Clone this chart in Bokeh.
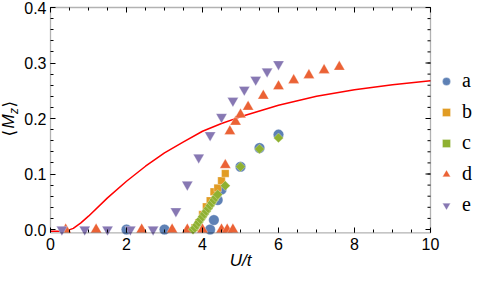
from bokeh.plotting import figure
from bokeh.models import FixedTicker, Legend, LegendItem, Label, Range1d, PrintfTickFormatter, BoxAnnotation
from bokeh.embed import file_html
from bokeh.resources import INLINE
import numpy as np

# ---- data ----
a_u = [2.0, 3.0, 4.2, 4.3, 4.4, 4.5, 5.0, 5.5, 6.0]
a_m = [0.0, 0.0, 0.0, 0.017, 0.053, 0.072, 0.113, 0.147, 0.171]
b_u = [3.8, 3.9, 4.0, 4.1, 4.2, 4.3, 4.4, 4.5, 4.6]
b_m = [0.003, 0.012, 0.027, 0.041, 0.052, 0.068, 0.075, 0.088, 0.101]
c_u = [3.75, 3.8, 3.85, 3.9, 3.95, 4.0, 4.05, 4.1, 4.15, 4.2, 4.25, 4.3, 4.35, 4.4, 4.6, 5.0, 5.5, 6.0]
c_m = [0.0, 0.003, 0.008, 0.013, 0.018, 0.023, 0.028, 0.033, 0.038, 0.043, 0.048, 0.053, 0.058, 0.063, 0.079, 0.113, 0.145, 0.165]
d_u = [0.4, 1.2, 2.4, 3.2, 3.6, 4.0, 4.5, 4.6, 4.65, 4.72, 4.8, 4.87, 5.0, 5.2, 5.6, 6.0, 6.4, 6.8, 7.2, 7.6]
d_m = [0, 0, 0, 0, 0, 0, 0, 0.116, 0, 0.177, 0, 0.194, 0.207, 0.221, 0.241, 0.258, 0.269, 0.278, 0.287, 0.293]
e_u = [0.3, 0.9, 1.5, 2.1, 2.7, 3.3, 3.6, 3.9, 4.2, 4.5, 4.8, 5.1, 5.4, 5.7, 6.0]
e_m = [0, 0, 0, 0, 0, 0.033, 0.081, 0.130, 0.170, 0.203, 0.232, 0.252, 0.270, 0.285, 0.298]
line_u = [0, 0.4, 0.6, 0.8, 1.0, 1.5, 2.0, 2.5, 3.0, 3.5, 4.0, 4.5, 5.0, 6.0, 7.0, 8.0, 9.0, 10.0]
line_m = [-0.003, -0.003, 0.002, 0.012, 0.024, 0.057, 0.087, 0.114, 0.138, 0.158, 0.177, 0.191, 0.203, 0.224, 0.240, 0.252, 0.261, 0.268]

x_ticks = [0, 2, 4, 6, 8, 10]
y_ticks = [0.0, 0.1, 0.2, 0.3, 0.4]
labels = ["a", "b", "c", "d", "e"]

C_A, C_B, C_C, C_D, C_E = "#5E81B5", "#E19C24", "#8FB131", "#EB6235", "#8778B3"

# plotted box (axis limits)
X0, X1, Y0, Y1 = 0.0, 10.0, -0.006, 0.4
W, H = 474, 272
SX = 38.0        # px per unit U
SY = 555.0       # px per unit M
LEFT_PX = 50     # box left, px from figure left
TOP_PX = 7       # box top, px from figure top
xr = Range1d(X0 - LEFT_PX / SX, X0 + (W - LEFT_PX) / SX)
yr = Range1d(Y1 - (H - TOP_PX) / SY, Y1 + TOP_PX / SY)

p = figure(width=W, height=H, x_range=xr, y_range=yr,
           output_backend="svg", toolbar_location=None,
           min_border_left=0, min_border_right=0, min_border_top=0, min_border_bottom=0)
p.xgrid.grid_line_color = None
p.ygrid.grid_line_color = None
p.outline_line_color = None
p.background_fill_color = "white"
p.border_fill_color = "white"

x_minor = list(np.round(np.arange(X0, X1 + 0.01, 0.5), 2))
y_minor = list(np.round(np.arange(0, Y1 + 0.001, 0.02), 3))
p.xaxis.ticker = FixedTicker(ticks=x_ticks, minor_ticks=x_minor)
p.yaxis.ticker = FixedTicker(ticks=y_ticks, minor_ticks=y_minor)
p.yaxis.formatter = PrintfTickFormatter(format="%.1f")
p.xaxis.fixed_location = Y0
p.yaxis.fixed_location = X0
p.xaxis.bounds = (X0, X1)
p.yaxis.bounds = (0, Y1)
for ax in (p.xaxis[0], p.yaxis[0]):
    ax.axis_line_color = None
    ax.major_tick_in = 5
    ax.major_tick_out = 0
    ax.minor_tick_in = 3
    ax.minor_tick_out = 0
    ax.major_tick_line_color = "black"
    ax.minor_tick_line_color = "black"
    ax.major_label_text_font = "Liberation Sans"
    ax.major_label_text_font_size = "16px"
    ax.major_label_text_color = "black"
p.xaxis.major_label_standoff = 5
p.yaxis.major_label_standoff = 4
p.xaxis.axis_label = "U/t"
p.xaxis.axis_label_text_font = "Liberation Sans"
p.xaxis.axis_label_text_font_style = "italic"
p.xaxis.axis_label_text_font_size = "17px"
p.xaxis.axis_label_text_color = "black"
p.xaxis.axis_label_standoff = -2

# frame box
p.add_layout(BoxAnnotation(left=X0, right=X1, bottom=Y0, top=Y1, fill_alpha=0,
                           line_color="black", line_width=1.3))

# ticks on the top and right frame edges
dx_maj, dx_min = 5 / SX, 3 / SX
dy_maj, dy_min = 5 / SY, 3 / SY
p.segment(x0=x_ticks, y0=[Y1] * len(x_ticks), x1=x_ticks, y1=[Y1 - dy_maj] * len(x_ticks), line_color="black", line_width=1)
p.segment(x0=x_minor, y0=[Y1] * len(x_minor), x1=x_minor, y1=[Y1 - dy_min] * len(x_minor), line_color="black", line_width=1)
p.segment(x0=[X1] * len(y_ticks), y0=y_ticks, x1=[X1 - dx_maj] * len(y_ticks), y1=y_ticks, line_color="black", line_width=1)
p.segment(x0=[X1] * len(y_minor), y0=y_minor, x1=[X1 - dx_min] * len(y_minor), y1=y_minor, line_color="black", line_width=1)

p.line(line_u, line_m, line_color="#FF0000", line_width=1.5)

kw = dict(line_color="white", line_alpha=0.5, line_width=0.6)
ra = p.scatter(a_u, a_m, marker="circle", size=10.5, fill_color=C_A, **kw)
rb = p.scatter(b_u, b_m, marker="square", size=7.5, fill_color=C_B, **kw)
rd = p.scatter(d_u, d_m, marker="triangle", size=11, fill_color=C_D, **kw)
re = p.scatter(e_u, e_m, marker="inverted_triangle", size=11, fill_color=C_E, **kw)
rc = p.scatter(c_u, c_m, marker="square", angle=np.pi / 4, size=7, fill_color=C_C, **kw)

legend = Legend(items=[LegendItem(label=l, renderers=[r]) for l, r in zip(labels, [ra, rb, rc, rd, re])],
                location=(436, 56), orientation="vertical", padding=0, margin=0,
                spacing=8, glyph_width=20, glyph_height=20, label_height=20, label_standoff=6,
                border_line_color=None, background_fill_alpha=0,
                label_text_font="Liberation Serif", label_text_font_size="20px",
                label_text_color="black")
p.add_layout(legend, "center")

# y axis label  <M_z>
ylab = dict(x_units="screen", y_units="screen", angle=np.pi / 2, text_baseline="middle",
            text_align="left", text_color="black")
p.add_layout(Label(x=8, y=136, text="⟨", text_font="DejaVu Sans", text_font_size="17px", **ylab))
p.add_layout(Label(x=8, y=144, text="M", text_font="Liberation Sans", text_font_size="17px",
                   text_font_style="italic", **ylab))
p.add_layout(Label(x=13, y=158.5, text="z", text_font="Liberation Sans", text_font_size="12px",
                   text_font_style="italic", **ylab))
p.add_layout(Label(x=8, y=165, text="⟩", text_font="DejaVu Sans", text_font_size="17px", **ylab))

open("out.html", "w").write(file_html(p, INLINE))
